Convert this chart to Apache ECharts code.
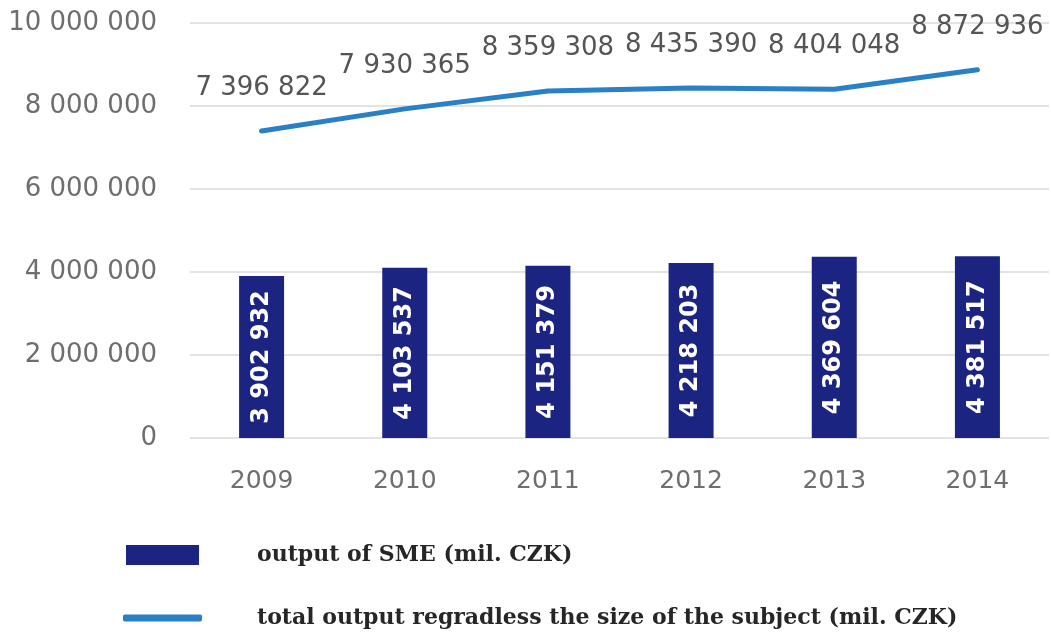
<!DOCTYPE html>
<html>
<head>
<meta charset="utf-8">
<script src="https://cdn.jsdelivr.net/npm/echarts@6/dist/echarts.min.js"></script>
<style>html,body{margin:0;padding:0;background:#fff}#c{width:1051px;height:634px}</style>
</head>
<body>
<div id="c"></div>
<script>
const years = ['2009', '2010', '2011', '2012', '2013', '2014'];
const smeOutput = [3902932, 4103537, 4151379, 4218203, 4369604, 4381517];
const totalOutput = [7396822, 7930365, 8359308, 8435390, 8404048, 8872936];
const seriesNames = ['output of SME (mil. CZK)', 'total output regradless the size of the subject (mil. CZK)'];

function fmt(v) {
  return String(v).replace(/\B(?=(\d{3})+(?!\d))/g, ' ');
}

const legendText = { fontFamily: 'DejaVu Serif', fontWeight: 'bold', fontSize: 22, lineHeight: 26, color: '#262626' };

const chart = echarts.init(document.getElementById('c'));
chart.setOption({
  animation: false,
  backgroundColor: '#ffffff',
  grid: { left: 190, right: 2, top: 23, bottom: 196 },
  xAxis: {
    type: 'category',
    data: years,
    axisLine: { show: false },
    axisTick: { show: false },
    axisLabel: { color: '#6e6e6e', fontFamily: 'DejaVu Sans', fontSize: 25, margin: 31 }
  },
  yAxis: {
    type: 'value',
    min: 0, max: 10000000, interval: 2000000,
    axisLine: { show: false },
    axisTick: { show: false },
    splitLine: { lineStyle: { color: '#e3e3e3', width: 2 } },
    axisLabel: { color: '#6e6e6e', fontFamily: 'DejaVu Sans', fontSize: 26, margin: 33, formatter: fmt }
  },
  legend: [
    {
      left: 126, top: 542, padding: 0,
      itemWidth: 73, itemHeight: 20,
      selectedMode: false,
      textStyle: Object.assign({}, legendText, { padding: [0, 0, 0, 53] }),
      data: [{ name: seriesNames[0], icon: 'rect' }]
    },
    {
      left: 123, top: 605, padding: 0,
      itemWidth: 79, itemHeight: 7,
      selectedMode: false,
      textStyle: Object.assign({}, legendText, { padding: [0, 0, 0, 50] }),
      data: [{ name: seriesNames[1], icon: 'roundRect' }]
    }
  ],
  series: [
    {
      name: seriesNames[0],
      type: 'bar',
      data: smeOutput,
      barWidth: 45,
      itemStyle: { color: '#1b2480' },
      label: {
        show: true, position: 'inside', rotate: 90,
        color: '#ffffff', fontFamily: 'DejaVu Sans', fontWeight: 'bold', fontSize: 24,
        formatter: p => fmt(p.value)
      }
    },
    {
      name: seriesNames[1],
      type: 'line',
      data: totalOutput,
      symbol: 'circle',
      symbolSize: 2,
      showSymbol: true,
      lineStyle: { color: '#2a80c6', width: 5, cap: 'round' },
      itemStyle: { color: '#2a80c6' },
      label: {
        show: true, position: 'top', distance: 27,
        color: '#555555', fontFamily: 'DejaVu Sans', fontSize: 26, lineHeight: 30,
        formatter: p => fmt(p.value)
      }
    }
  ]
});
</script>
</body>
</html>
